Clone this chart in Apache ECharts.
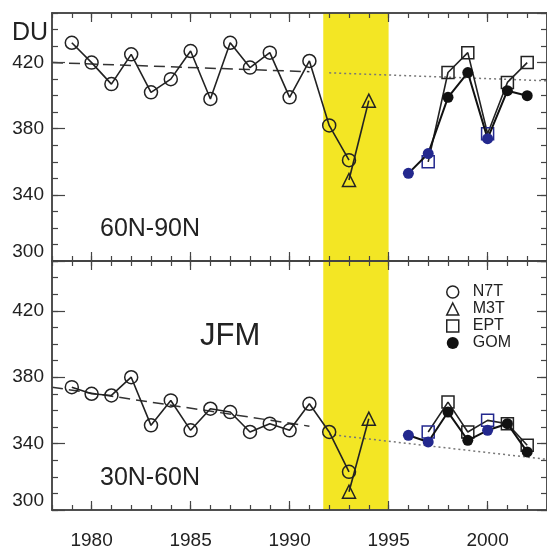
<!DOCTYPE html>
<html><head><meta charset="utf-8">
<script src="https://cdn.jsdelivr.net/npm/echarts@6/dist/echarts.min.js"></script>
<style>html,body{margin:0;padding:0;background:#fff}#c{width:547px;height:550px}</style>
</head><body><div id="c"></div>
<script>
const FONT = '"Liberation Sans", Arial, sans-serif';
const INK = '#222';
const AX = '#444';
const BLUE = '#23288e';
const YELLOW = '#f3e624';

const xMin = 1978, xMax = 2003;
const yMin = 300, yMax = 450;
const majorYears = [1980, 1985, 1990, 1995, 2000];
const bandYears = [1991.7, 1995];

const n7tYears = [1979,1980,1981,1982,1983,1984,1985,1986,1987,1988,1989,1990,1991,1992,1993];
const n7tTop = [432,420,407,425,402,410,427,398,432,417,426,399,421,382,361];
const n7tBot = [374,370,369,380,351,366,348,361,359,347,352,348,364,347,323];
const m3tYears = [1993, 1994];
const m3tTop = [349, 397];
const m3tBot = [311, 355];
const gomYears = [1996,1997,1998,1999,2000,2001,2002];
const gomTop = [353,365,399,414,374,403,400];
const gomBot = [345,341,359,342,348,352,335];
const eptYears = [1997,1998,1999,2000,2001,2002];
const eptTop = [360,414,426,377,408,420];
const eptBot = [347,365,347,354,352,339];
const blueGomYears = [1996, 1997, 2000];
const blueEptYears = [1997, 2000];
const dashYears = [1978, 1991];
const dashTop = [420, 414.5];
const dashBot = [374, 350.5];
const dotYears = [1992, 2003];
const dotTop = [413.8, 409];
const dotBot = [345.5, 330.5];

function pairs(xs, ys) { return xs.map((x, i) => [x, ys[i]]); }

const axLine = {show: true, onZero: false, lineStyle: {color: AX, width: 1.5}};
const tickStyle = {color: AX, width: 1.2};

function xAxes(g, labels) {
  const base = {gridIndex: g, type: 'value', min: xMin, max: xMax, z: 5,
    splitLine: {show: false}, axisLine: axLine};
  const minor = {interval: 1, axisTick: {inside: true, length: 5, lineStyle: tickStyle}, axisLabel: {show: false}};
  const major = {axisTick: {inside: true, length: 9, customValues: majorYears, lineStyle: tickStyle}};
  return [
    Object.assign({}, base, minor, {position: 'bottom'}),
    Object.assign({}, base, major, {position: 'bottom', axisLabel: {show: labels, customValues: majorYears,
      formatter: v => String(v), fontSize: 19, color: INK, fontFamily: FONT, margin: 21}}),
    Object.assign({}, base, minor, {position: 'top'}),
    Object.assign({}, base, major, {position: 'top', axisLabel: {show: false}})
  ];
}
function yAxes(g) {
  const base = {gridIndex: g, type: 'value', min: yMin, max: yMax, z: 5,
    splitLine: {show: false}, axisLine: axLine};
  return [
    Object.assign({}, base, {position: 'left', interval: 10, axisTick: {inside: true, length: 6, lineStyle: tickStyle}, axisLabel: {show: false}}),
    Object.assign({}, base, {position: 'left', interval: 40, axisTick: {inside: true, length: 13, lineStyle: tickStyle},
      axisLabel: {show: true, fontSize: 19, color: INK, fontFamily: FONT, margin: 8, showMaxLabel: false, verticalAlignMinLabel: 'bottom'}}),
    Object.assign({}, base, {position: 'right', interval: 10, axisTick: {inside: true, length: 6, lineStyle: tickStyle}, axisLabel: {show: false}}),
    Object.assign({}, base, {position: 'right', interval: 40, axisTick: {inside: true, length: 10, lineStyle: tickStyle}, axisLabel: {show: false}})
  ];
}

const hollow = {color: 'rgba(255,255,255,0)', borderColor: INK, borderWidth: 1.5};
const lineS = {color: INK, width: 1.6};

function panelSeries(g, n7t, m3t, gom, ept, dash, dot) {
  const ax = {xAxisIndex: g * 4, yAxisIndex: g * 4};
  const gomData = gomYears.map((y, i) => blueGomYears.includes(y)
    ? {value: [y, gom[i]], itemStyle: {color: BLUE}} : [y, gom[i]]);
  const eptData = eptYears.map((y, i) => blueEptYears.includes(y)
    ? {value: [y, ept[i]], itemStyle: {borderColor: BLUE}} : [y, ept[i]]);
  return [
    Object.assign({type: 'line', data: pairs(dashYears, dash), symbol: 'none', z: 1,
      lineStyle: {color: '#333', width: 1.5, type: [11, 6]},
      markArea: {silent: true, itemStyle: {color: YELLOW}, data: [[{xAxis: bandYears[0]}, {xAxis: bandYears[1]}]]}}, ax),
    Object.assign({type: 'line', data: pairs(dotYears, dot), symbol: 'none', z: 2,
      lineStyle: {color: '#777', width: 1.5, type: [2, 3]}}, ax),
    Object.assign({type: 'line', name: 'N7T', data: pairs(n7tYears, n7t), symbol: 'circle', symbolSize: 13,
      itemStyle: hollow, lineStyle: lineS, z: 3}, ax),
    Object.assign({type: 'line', name: 'M3T', data: pairs(m3tYears, m3t), symbol: 'triangle', symbolSize: 13,
      itemStyle: hollow, lineStyle: lineS, z: 3}, ax),
    Object.assign({type: 'line', name: 'EPT', data: eptData, symbol: 'rect', symbolSize: 12,
      itemStyle: hollow, lineStyle: lineS, z: 3}, ax),
    Object.assign({type: 'line', name: 'GOM', data: gomData, symbol: 'circle', symbolSize: 11,
      itemStyle: {color: '#111', borderWidth: 0}, lineStyle: {color: '#111', width: 2}, z: 4}, ax)
  ];
}

const chart = echarts.init(document.getElementById('c'), null, {renderer: 'canvas'});
chart.setOption({
  animation: false,
  backgroundColor: '#fff',
  grid: [
    {left: 52, top: 13, width: 496, height: 248},
    {left: 52, top: 261, width: 496, height: 250}
  ],
  xAxis: xAxes(0, false).concat(xAxes(1, true)),
  yAxis: yAxes(0).concat(yAxes(1)),
  legend: {
    orient: 'vertical', left: 441, top: 279, itemWidth: 12, itemHeight: 12, itemGap: 1,
    selectedMode: false,
    textStyle: {fontSize: 16, color: INK, fontFamily: FONT, padding: [0, 0, 0, 9]},
    data: [
      {name: 'N7T', icon: 'circle', itemStyle: hollow},
      {name: 'M3T', icon: 'triangle', itemStyle: hollow},
      {name: 'EPT', icon: 'rect', itemStyle: hollow},
      {name: 'GOM', icon: 'circle', itemStyle: {color: '#111', borderWidth: 0}}
    ]
  },
  graphic: [
    {type: 'text', x: 12, y: 33, z: 10, style: {text: 'DU', fontSize: 25, fill: INK, fontFamily: FONT, verticalAlign: 'middle'}},
    {type: 'text', x: 100, y: 229, z: 10, style: {text: '60N-90N', fontSize: 25, fill: INK, fontFamily: FONT, verticalAlign: 'middle'}},
    {type: 'text', x: 100, y: 478, z: 10, style: {text: '30N-60N', fontSize: 25, fill: INK, fontFamily: FONT, verticalAlign: 'middle'}},
    {type: 'text', x: 200, y: 336, z: 10, style: {text: 'JFM', fontSize: 31, fill: INK, fontFamily: FONT, verticalAlign: 'middle'}}
  ],
  series: panelSeries(0, n7tTop, m3tTop, gomTop, eptTop, dashTop, dotTop)
    .concat(panelSeries(1, n7tBot, m3tBot, gomBot, eptBot, dashBot, dotBot))
});
</script>
</body></html>
